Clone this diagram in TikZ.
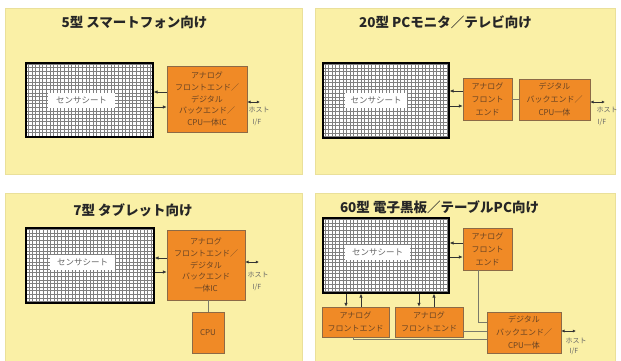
\documentclass[tikz,border=0pt]{standalone}
\usepackage{fontspec}
\newfontfamily\cjk{Noto Sans CJK JP}
\usetikzlibrary{arrows.meta,calc}
\definecolor{panelY}{HTML}{FAF0A6}
\definecolor{panelE}{HTML}{EAE09A}
\definecolor{boxO}{HTML}{F08A26}
\definecolor{boxE}{HTML}{8C6A46}
\definecolor{boxT}{HTML}{6A4424}
\definecolor{lineG}{HTML}{7A7A6A}
\begin{document}
\begin{tikzpicture}[x=1pt,y=-1pt,
 font=\cjk,
 panel/.style={fill=panelY, draw=panelE, line width=0.8pt},
 sensor/.style={fill=white, draw=black, line width=1.4pt, inner sep=0,
   path picture={\draw[black!50, line width=0.45pt] (path picture bounding box.south west) grid[step=3.6pt] (path picture bounding box.north east);}},
 slabel/.style={fill=white, inner sep=0, text=black!60, font=\cjk\fontsize{8.5}{9}\selectfont},
 obox/.style={fill=boxO, draw=boxE, line width=0.6pt, inner sep=0, align=center, text=boxT, font=\cjk\fontsize{8}{11.8}\selectfont},
 obox3/.style={obox, font=\cjk\fontsize{8}{13}\selectfont},
 title/.style={font=\cjk\bfseries\fontsize{13.5}{15}\selectfont, text=black!85, inner sep=0},
 host/.style={font=\cjk\fontsize{7}{7}\selectfont, text=black!60, inner sep=0},
 arr/.style={-{Latex[length=3.8pt,width=3.4pt]}, line width=0.6pt, black!80},
 harr/.style={{Latex[length=3.2pt,width=3.2pt]}-{Latex[length=3.2pt,width=3.2pt]}, line width=0.7pt, black!80},
 link/.style={lineG, line width=0.8pt},
]
\useasboundingbox (0,0) rectangle (621,360);
\fill[white] (0,0) rectangle (621,360);
% panels
\draw[panel] (5,8) rectangle (302,174);
\draw[panel] (315,8) rectangle (615,174);
\draw[panel] (5,193) rectangle (302,361);
\draw[panel] (315,193) rectangle (615,361);

% ---------- panel 1
\node[title] (t1) at (134.5,22) {5型 スマートフォン向け};
\node[sensor, minimum width=127pt, minimum height=74pt] (s1) at (89.5,100) {};
\node[slabel, minimum width=67pt, minimum height=15pt] (l1) at (81.5,100.5) {センサシート};
\node[obox, minimum width=80pt, minimum height=66pt] (o1) at (207,99) {アナログ\\フロントエンド／\\デジタル\\バックエンド／\\CPU一体IC};
\coordinate (p) at ($(o1.west)+(0,-7)$);
\draw[arr] (p) -- (p -| s1.east);
\coordinate (p) at ($(o1.west)+(0,8)$);
\draw[arr] (p -| s1.east) -- (p);
\coordinate (h1) at (260,102);
\draw[harr] (o1.east |- h1) -- (h1);
\node[host] (hs1) at (259,110) {ホスト};
\node[host] (hi1) at (257,122) {I/F};

% ---------- panel 2
\node[title] (t2) at (445.5,22) {20型 PCモニタ／テレビ向け};
\node[sensor, minimum width=126pt, minimum height=75pt] (s2) at (386,100.5) {};
\node[slabel, minimum width=62pt, minimum height=15pt] (l2) at (376,100.5) {センサシート};
\node[obox3, minimum width=49pt, minimum height=42pt] (a2) at (487.5,99.5) {アナログ\\フロント\\エンド};
\node[obox3, minimum width=71pt, minimum height=41pt] (d2) at (554.5,99.5) {デジタル\\バックエンド／\\CPU一体};
\coordinate (p) at ($(a2.west)+(0,-8.5)$);
\draw[arr] (p) -- (p -| s2.east);
\coordinate (p) at ($(a2.west)+(0,6.5)$);
\draw[arr] (p -| s2.east) -- (p);
\draw[link] (a2.east) -- (d2.west);
\coordinate (h2) at (605,102);
\draw[harr] (d2.east |- h2) -- (h2);
\node[host] (hs2) at (607,110) {ホスト};
\node[host] (hi2) at (602,122) {I/F};

% ---------- panel 3
\node[title] (t3) at (133,210) {7型 タブレット向け};
\node[sensor, minimum width=128pt, minimum height=75pt] (s3) at (90,265.5) {};
\node[slabel, minimum width=65pt, minimum height=15pt] (l3) at (82.5,262.5) {センサシート};
\node[obox, minimum width=78pt, minimum height=70pt] (o3) at (206,265) {アナログ\\フロントエンド／\\デジタル\\バックエンド\\一体IC};
\coordinate (p) at ($(o3.west)+(0,-7)$);
\draw[arr] (p) -- (p -| s3.east);
\coordinate (p) at ($(o3.west)+(0,7)$);
\draw[arr] (p -| s3.east) -- (p);
\coordinate (h3) at (259,262);
\draw[harr] (o3.east |- h3) -- (h3);
\node[host] (hs3) at (258,275) {ホスト};
\node[host] (hi3) at (257,287) {I/F};
\node[obox, minimum width=32pt, minimum height=41pt] (c3) at (208,332.5) {CPU};
\draw[link] (c3.north) -- (c3.north |- o3.south);

% ---------- panel 4
\node[title] (t4) at (439.5,207) {60型 電子黒板／テーブルPC向け};
\node[sensor, minimum width=126pt, minimum height=75pt] (s4) at (386,255.5) {};
\node[slabel, minimum width=65pt, minimum height=15pt] (l4) at (377.5,252.5) {センサシート};
\node[obox3, minimum width=49pt, minimum height=42pt] (a4r) at (487.5,249) {アナログ\\フロント\\エンド};
\node[obox3, minimum width=67pt, minimum height=30pt] (a4l) at (355.5,322) {アナログ\\フロントエンド};
\node[obox3, minimum width=68pt, minimum height=30pt] (a4m) at (429,322) {アナログ\\フロントエンド};
\node[obox3, minimum width=74pt, minimum height=41pt] (d4) at (524,332.5) {デジタル\\バックエンド／\\CPU一体};
\coordinate (p) at ($(a4r.west)+(0,-6)$);
\draw[arr] (p) -- (p -| s4.east);
\coordinate (p) at ($(a4r.west)+(0,8)$);
\draw[arr] (p -| s4.east) -- (p);
\coordinate (q) at ($(a4l.north)+(-9.5,0)$);
\draw[arr] (q |- s4.south) -- (q);
\coordinate (q) at ($(a4l.north)+(5.5,0)$);
\draw[arr] (q) -- (q |- s4.south);
\coordinate (q) at ($(a4m.north)+(-10,0)$);
\draw[arr] (q |- s4.south) -- (q);
\coordinate (q) at ($(a4m.north)+(5,0)$);
\draw[arr] (q) -- (q |- s4.south);
\coordinate (r) at ($(a4r.south)+(-9.5,0)$);
\draw[link] (r) |- ($(d4.west)+(0,-10.5)$);
\coordinate (m) at ($(a4m.east)+(0,9)$);
\draw[link] (m) -- (m -| d4.west);
\coordinate (r) at ($(a4l.south)+(-2.5,0)$);
\draw[link] (r) |- ($(d4.west)+(0,7)$);
\coordinate (h4) at (576,331);
\draw[harr] (d4.east |- h4) -- (h4);
\node[host] (hs4) at (576,341) {ホスト};
\node[host] (hi4) at (574,351) {I/F};
\end{tikzpicture}
\end{document}
